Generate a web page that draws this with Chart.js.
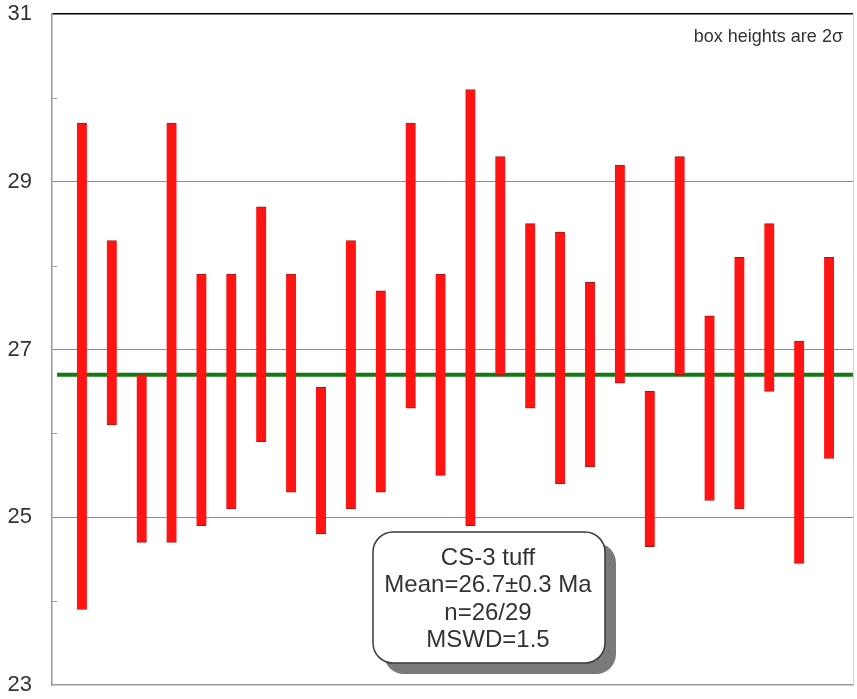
<!DOCTYPE html>
<html>
<head>
<meta charset="utf-8">
<script src="https://cdn.jsdelivr.net/npm/chart.js@4/dist/chart.umd.min.js"></script>
<style>
  html, body { margin: 0; padding: 0; background: #fff; }
  canvas { display: block; }
</style>
</head>
<body>
<canvas id="c" width="857" height="699"></canvas>
<script>
// Analysis number (position along the plot) for each accepted grain
const analyses = [1, 2, 3, 4, 5, 6, 7, 8, 9, 10, 11, 12, 13, 14, 15, 16, 17, 18, 19, 20, 21, 22, 23, 24, 25, 26];
// Upper and lower ends of each age box (Ma), i.e. age +/- 2 sigma
const ageHigh = [29.7, 28.3, 26.7, 29.7, 27.9, 27.9, 28.7, 27.9, 26.55, 28.3, 27.7, 29.7, 27.9,
                 30.1, 29.3, 28.5, 28.4, 27.8, 29.2, 26.5, 29.3, 27.4, 28.1, 28.5, 27.1, 28.1];
const ageLow  = [23.9, 26.1, 24.7, 24.7, 24.9, 25.1, 25.9, 25.3, 24.8, 25.1, 25.3, 26.3, 25.5,
                 24.9, 26.7, 26.3, 25.4, 25.6, 26.6, 24.65, 26.7, 25.2, 25.1, 26.5, 24.45, 25.7];
// Weighted mean age (Ma)
const meanAge = 26.7;
// Y-axis range and labelled ticks
const yMin = 23, yMax = 31;
const yTickLabels = [23, 25, 27, 29, 31];
// Text for the summary box and the note
const summaryLines = ['CS-3 tuff', 'Mean=26.7\u00b10.3 Ma', 'n=26/29', 'MSWD=1.5'];
const noteText = 'box heights are 2\u03c3';

const FONT = '"Liberation Sans", Arial, Helvetica, sans-serif';
const TEXT = '#333333';

const boxes = analyses.map((a, i) => ({ x: a, y: [ageLow[i], ageHigh[i]] }));

function roundRect(ctx, x, y, w, h, r) {
  ctx.beginPath();
  ctx.moveTo(x + r, y);
  ctx.lineTo(x + w - r, y);
  ctx.arcTo(x + w, y, x + w, y + r, r);
  ctx.lineTo(x + w, y + h - r);
  ctx.arcTo(x + w, y + h, x + w - r, y + h, r);
  ctx.lineTo(x + r, y + h);
  ctx.arcTo(x, y + h, x, y + h - r, r);
  ctx.lineTo(x, y + r);
  ctx.arcTo(x, y, x + r, y, r);
  ctx.closePath();
}

// Minor ticks, right frame line, note and summary box
const decorations = {
  id: 'decorations',
  afterDraw(chart) {
    const { ctx, chartArea } = chart;
    const ys = chart.scales.y;
    ctx.save();

    // short inward ticks at the unlabelled whole numbers
    ctx.strokeStyle = '#9a9a9a';
    ctx.lineWidth = 1;
    for (let v = yMin + 1; v < yMax; v += 2) {
      const py = Math.round(ys.getPixelForValue(v)) + 0.5;
      ctx.beginPath();
      ctx.moveTo(chartArea.left, py);
      ctx.lineTo(chartArea.left + 5, py);
      ctx.stroke();
    }

    // right frame edge
    ctx.strokeStyle = '#d4d4d4';
    ctx.beginPath();
    ctx.moveTo(chartArea.right + 0.5, chartArea.top);
    ctx.lineTo(chartArea.right + 0.5, chartArea.bottom);
    ctx.stroke();

    // note in the top right corner
    ctx.fillStyle = TEXT;
    ctx.font = '18px ' + FONT;
    ctx.textAlign = 'right';
    ctx.textBaseline = 'alphabetic';
    ctx.fillText(noteText, chartArea.right - 10, 42);

    // summary box with drop shadow
    const bx = 373, by = 532, bw = 232, bh = 131, r = 20, off = 11;
    ctx.fillStyle = '#7a7a7a';
    roundRect(ctx, bx + off, by + off, bw, bh, r);
    ctx.fill();
    ctx.fillStyle = '#ffffff';
    roundRect(ctx, bx, by, bw, bh, r);
    ctx.fill();
    ctx.strokeStyle = '#3a3a3a';
    ctx.lineWidth = 1.5;
    ctx.stroke();

    ctx.fillStyle = TEXT;
    ctx.font = '24px ' + FONT;
    ctx.textAlign = 'center';
    const cx = bx + bw / 2 - 1;
    summaryLines.forEach((t, i) => ctx.fillText(t, cx, 565 + i * 27.3));

    ctx.restore();
  }
};

new Chart(document.getElementById('c'), {
  data: {
    datasets: [
      {
        type: 'bar',
        data: boxes,
        backgroundColor: '#ff1414',
        borderColor: '#a01818',
        borderWidth: { top: 1, bottom: 1, left: 0, right: 0 },
        borderSkipped: false,
        barThickness: 10,
        order: 1
      },
      {
        type: 'line',
        data: [{ x: 0.17, y: meanAge }, { x: 26.8, y: meanAge }],
        borderColor: '#127a12',
        borderWidth: 4,
        pointRadius: 0,
        order: 2
      }
    ]
  },
  options: {
    responsive: false,
    animation: false,
    events: [],
    layout: { padding: { top: 14, right: 4, bottom: 14, left: 0 } },
    plugins: {
      legend: { display: false },
      tooltip: { enabled: false }
    },
    scales: {
      x: {
        type: 'linear',
        min: 0,
        max: 26.8,
        offset: false,
        ticks: { display: false },
        grid: { display: false, offset: false },
        border: { color: '#9a9a9a', width: 1.5 },
        afterFit(scale) {
          scale.height = 0;
          scale.paddingLeft = 0;
          scale.paddingRight = 0;
        }
      },
      y: {
        min: yMin,
        max: yMax,
        ticks: {
          stepSize: 1,
          padding: 20,
          color: TEXT,
          font: { family: FONT, size: 22 },
          callback: v => (yTickLabels.includes(v) ? String(v) : '')
        },
        grid: {
          drawTicks: false,
          color: c => {
            const v = c.tick.value;
            if (v === yMax) return '#000000';
            if (v === yMin) return 'rgba(0,0,0,0)';
            return yTickLabels.includes(v) ? '#8c8c8c' : 'rgba(0,0,0,0)';
          },
          lineWidth: c => (c.tick.value === yMax ? 1.5 : 1)
        },
        border: { color: '#9a9a9a', width: 1.5 },
        afterFit(scale) {
          scale.width = 52;
          scale.paddingTop = 0;
          scale.paddingBottom = 0;
        }
      }
    }
  },
  plugins: [decorations]
});
</script>
</body>
</html>
